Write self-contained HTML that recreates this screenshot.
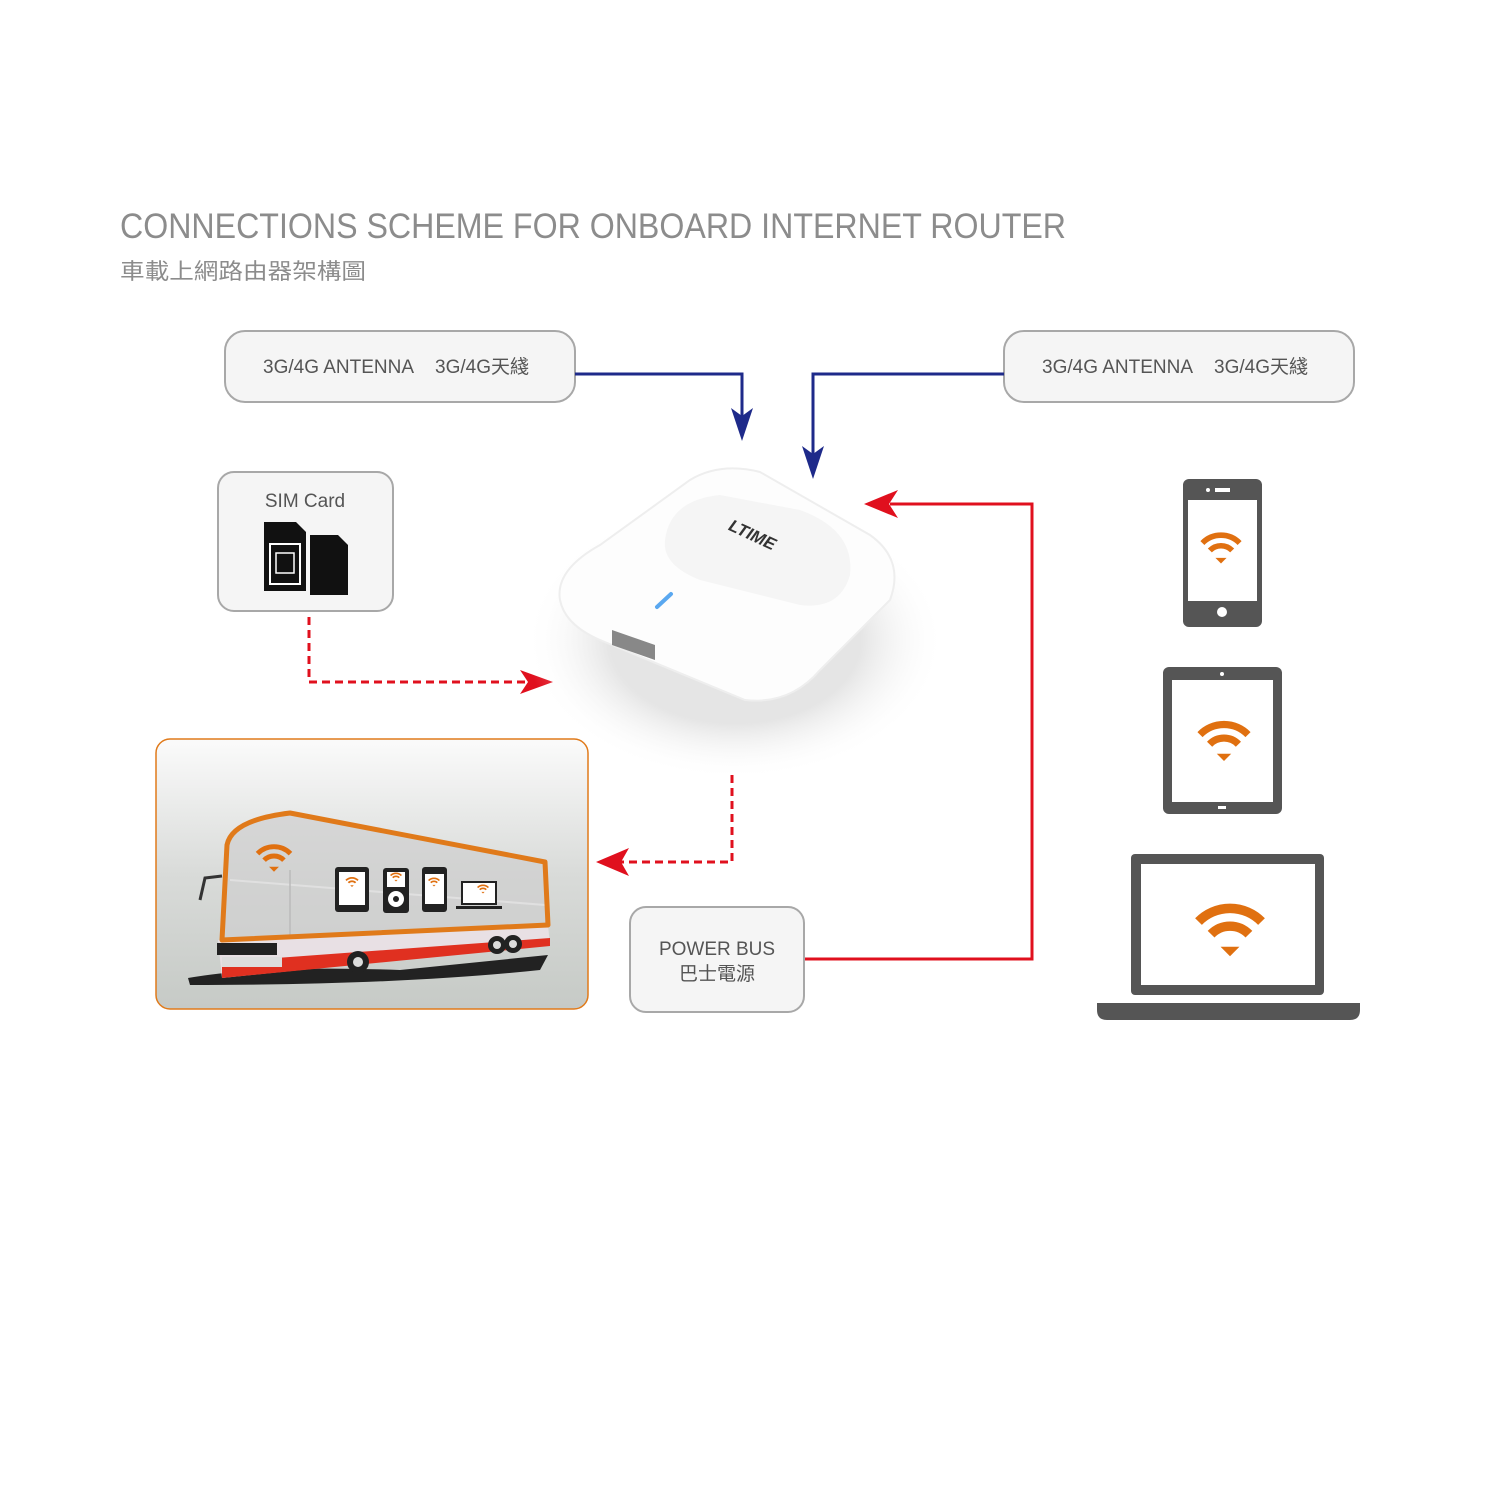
<!DOCTYPE html>
<html><head><meta charset="utf-8"><style>
html,body{margin:0;padding:0;background:#fff}
svg{display:block}
text{font-family:"Liberation Sans","Noto Sans CJK TC",sans-serif}
</style></head><body>
<svg width="1500" height="1499" viewBox="0 0 1500 1499" xmlns="http://www.w3.org/2000/svg">
<defs>
<linearGradient id="bg" x1="0" y1="0" x2="0" y2="1">
<stop offset="0" stop-color="#fbfbfb"/><stop offset="0.5" stop-color="#d9dbd9"/><stop offset="1" stop-color="#c6cac6"/></linearGradient>
<radialGradient id="sh" cx="0.5" cy="0.5" r="0.5"><stop offset="0.6" stop-color="#d4d4d4" stop-opacity="0.6"/><stop offset="1" stop-color="#fff" stop-opacity="0"/></radialGradient>
<g id="wifi"><path d="M-30,-8 A42,42 0 0 1 30,-8" fill="none" stroke="#e07010" stroke-width="9"/><path d="M-18,4 A25,25 0 0 1 18,4" fill="none" stroke="#e07010" stroke-width="9"/><path d="M-9,16 L0,25 L9,16 Z" fill="#e07010"/></g>
</defs>
<text x="120" y="238" font-size="35" fill="#8c8c8c" textLength="946" lengthAdjust="spacingAndGlyphs">CONNECTIONS SCHEME FOR ONBOARD INTERNET ROUTER</text>
<text x="120" y="279" font-size="22" fill="#8c8c8c" textLength="246" lengthAdjust="spacingAndGlyphs">車載上網路由器架構圖</text>

<rect x="225" y="331" width="350" height="71" rx="20" fill="#f5f5f5" stroke="#a8a8a8" stroke-width="2"/>
<text x="263" y="373" font-size="19" fill="#555">3G/4G ANTENNA</text><text x="435" y="373" font-size="19" fill="#555">3G/4G天綫</text>
<rect x="1004" y="331" width="350" height="71" rx="20" fill="#f5f5f5" stroke="#a8a8a8" stroke-width="2"/>
<text x="1042" y="373" font-size="19" fill="#555">3G/4G ANTENNA</text><text x="1214" y="373" font-size="19" fill="#555">3G/4G天綫</text>

<polyline points="575,374 742,374 742,418" fill="none" stroke="#1e2a8a" stroke-width="3"/>
<path d="M731,408 L742,441 L753,408 L742,416 Z" fill="#1e2a8a"/>
<polyline points="1004,374 813,374 813,455" fill="none" stroke="#1e2a8a" stroke-width="3"/>
<path d="M802,446 L813,479 L824,446 L813,454 Z" fill="#1e2a8a"/>

<rect x="218" y="472" width="175" height="139" rx="16" fill="#f5f5f5" stroke="#a8a8a8" stroke-width="2"/>
<text x="305" y="507" font-size="19" fill="#555" text-anchor="middle">SIM Card</text>
<path d="M264,522 h32 l10,10 v59 h-42 z" fill="#111"/>
<rect x="270" y="544" width="30" height="40" fill="none" stroke="#fff" stroke-width="2"/>
<rect x="276" y="553" width="18" height="20" fill="none" stroke="#fff" stroke-width="1.5"/>
<path d="M310,535 h28 l10,10 v50 h-38 z" fill="#111"/>

<polyline points="309,617 309,682 530,682" fill="none" stroke="#e0101e" stroke-width="3" stroke-dasharray="8,5"/>
<path d="M520,670 L553,682 L520,694 L528,682 Z" fill="#e0101e"/>

<!-- router -->
<ellipse cx="735" cy="640" rx="210" ry="140" fill="url(#sh)"/>
<path d="M560,600 Q555,570 600,545 L690,480 Q720,462 760,472 L870,535 Q905,560 890,600 L820,670 Q790,705 745,700 L600,640 Q565,625 560,600 Z" fill="#fdfdfd" stroke="#eeeeee" stroke-width="2"/>
<path d="M665,540 Q670,500 720,495 L800,510 Q855,530 850,575 Q840,610 800,605 L700,580 Q662,565 665,540 Z" fill="#f5f5f5"/>
<text x="750" y="540" font-size="17" font-weight="bold" fill="#333" transform="rotate(25 750 540)" text-anchor="middle" font-style="italic">LTIME</text>
<line x1="657" y1="607" x2="671" y2="594" stroke="#5aa8f0" stroke-width="4" stroke-linecap="round"/>
<path d="M612,630 L655,645 L655,660 L612,645 Z" fill="#888"/>

<polyline points="805,959 1032,959 1032,504 890,504" fill="none" stroke="#e0101e" stroke-width="3"/>
<path d="M898,490 L864,504 L898,518 L889,504 Z" fill="#e0101e"/>

<polyline points="732,775 732,862 620,862" fill="none" stroke="#e0101e" stroke-width="3" stroke-dasharray="8,5"/>
<path d="M629,848 L596,862 L629,876 L621,862 Z" fill="#e0101e"/>

<rect x="630" y="907" width="174" height="105" rx="16" fill="#f5f5f5" stroke="#a8a8a8" stroke-width="2"/>
<text x="717" y="955" font-size="19" fill="#555" text-anchor="middle">POWER BUS</text>
<text x="717" y="980" font-size="19" fill="#555" text-anchor="middle">巴士電源</text>

<!-- bus panel -->
<rect x="156" y="739" width="432" height="270" rx="14" fill="url(#bg)" stroke="#e07a1a" stroke-width="1.5"/>
<path d="M188,978 Q260,965 400,970 L548,955 L540,970 Q400,985 190,985 Z" fill="#222"/>
<!-- lower body -->
<path d="M218,940 L548,925 L550,945 L400,960 L222,978 Z" fill="#e8e0e4"/>
<path d="M222,962 L550,938 L550,946 L222,978 Z" fill="#e03020"/>
<rect x="217" y="943" width="60" height="12" fill="#222"/>
<rect x="222" y="957" width="60" height="10" fill="#ddd"/>
<!-- upper glass -->
<path d="M222,940 L227,845 Q232,820 290,813 L545,862 L548,925 Z" fill="#cfcfcf" fill-opacity="0.7"/>
<line x1="230" y1="880" x2="545" y2="905" stroke="#e0e0e0" stroke-width="2"/>
<line x1="290" y1="870" x2="290" y2="935" stroke="#bbb" stroke-width="1.5"/>
<path d="M222,940 L227,845 Q232,820 290,813 L545,862 L548,925 Z" fill="none" stroke="#e07a1a" stroke-width="5" stroke-linejoin="round"/>
<circle cx="358" cy="962" r="11" fill="#222"/><circle cx="358" cy="962" r="5" fill="#ddd"/>
<circle cx="497" cy="945" r="9" fill="#222"/><circle cx="497" cy="945" r="4" fill="#ddd"/>
<circle cx="513" cy="944" r="9" fill="#222"/><circle cx="513" cy="944" r="4" fill="#ddd"/>
<path d="M222,876 L205,878 L200,900" fill="none" stroke="#333" stroke-width="3"/>
<use href="#wifi" transform="translate(274,858) scale(0.55)"/>
<rect x="335" y="867" width="34" height="45" rx="3" fill="#222"/><rect x="339" y="872" width="26" height="33" fill="#fff"/>
<rect x="383" y="868" width="26" height="45" rx="3" fill="#222"/><rect x="387" y="872" width="18" height="15" fill="#fff"/><circle cx="396" cy="899" r="8" fill="#fff"/><circle cx="396" cy="899" r="3" fill="#222"/>
<rect x="422" y="867" width="25" height="45" rx="3" fill="#222"/><rect x="425" y="874" width="19" height="30" fill="#fff"/>
<rect x="461" y="881" width="36" height="24" fill="#222"/><rect x="463" y="883" width="32" height="20" fill="#fff"/><rect x="456" y="906" width="46" height="3" fill="#222"/>
<use href="#wifi" transform="translate(352,882) scale(0.2)"/><use href="#wifi" transform="translate(396,877) scale(0.18)"/><use href="#wifi" transform="translate(434,882) scale(0.18)"/><use href="#wifi" transform="translate(483,889) scale(0.18)"/>

<!-- devices -->
<rect x="1183" y="479" width="79" height="148" rx="6" fill="#555"/>
<rect x="1188" y="500" width="69" height="101" fill="#fff"/>
<rect x="1215" y="488" width="15" height="4" fill="#fff"/><circle cx="1208" cy="490" r="2" fill="#fff"/>
<circle cx="1222" cy="612" r="5" fill="#fff"/>
<use href="#wifi" transform="translate(1221,548) scale(0.62)"/>

<rect x="1163" y="667" width="119" height="147" rx="6" fill="#555"/>
<rect x="1172" y="680" width="101" height="122" fill="#fff"/>
<circle cx="1222" cy="674" r="2" fill="#fff"/><rect x="1218" y="806" width="8" height="3" fill="#fff"/>
<use href="#wifi" transform="translate(1224,741) scale(0.8)"/>

<rect x="1131" y="854" width="193" height="141" rx="4" fill="#555"/>
<rect x="1141" y="864" width="174" height="121" fill="#fff"/>
<path d="M1097,1003 H1360 V1010 Q1360,1020 1350,1020 H1107 Q1097,1020 1097,1010 Z" fill="#555"/>
<use href="#wifi" transform="translate(1230,930) scale(1.05)"/>
</svg>
</body></html>
